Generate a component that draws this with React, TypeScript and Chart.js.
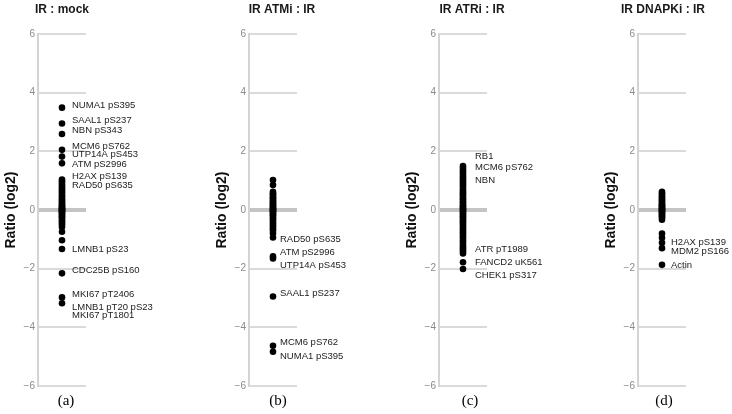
import React, { useEffect, useRef } from "react";
import { Chart, registerables } from "chart.js";

Chart.register(...registerables);

// ---------- data ----------
const panelTitles = ["IR : mock", "IR ATMi : IR", "IR ATRi : IR", "IR DNAPKi : IR"];
const panelCaptions = ["(a)", "(b)", "(c)", "(d)"];
const yTicks = [-6, -4, -2, 0, 2, 4, 6];
const yAxisTitle = "Ratio (log2)";

const ratiosA = [
  3.49, 2.95, 2.59, 2.05, 1.82, 1.59,
  1.04, 0.98, 0.92, 0.86, 0.8, 0.74, 0.69, 0.63, 0.58, 0.52, 0.47, 0.41, 0.36, 0.31,
  0.27, 0.22, 0.18, 0.14, 0.11, 0.08, 0.05, 0.03, 0.01, -0.02, -0.04, -0.07, -0.1,
  -0.13, -0.17, -0.21, -0.25, -0.3, -0.35, -0.4, -0.45, -0.51, -0.58,
  -0.74, -1.03, -1.33, -2.16, -2.98, -3.18,
];
const namesA = [
  "NUMA1 pS395", "SAAL1 pS237", "NBN pS343", "MCM6 pS762", "UTP14A pS453", "ATM pS2996",
  "H2AX pS139", "RAD50 pS635", "LMNB1 pS23", "CDC25B pS160", "MKI67 pT2406",
  "LMNB1 pT20 pS23", "MKI67 pT1801",
];
const nameYA = [3.56, 3.07, 2.7, 2.16, 1.88, 1.56, 1.14, 0.84, -1.34, -2.07, -2.87, -3.31, -3.58];

const ratiosB = [
  1.02, 0.85,
  0.62, 0.57, 0.53, 0.48, 0.43, 0.39, 0.34, 0.3, 0.26, 0.22, 0.18, 0.15, 0.11, 0.08,
  0.05, 0.02, -0.01, -0.04, -0.07, -0.11, -0.15, -0.19, -0.24, -0.29, -0.34, -0.4,
  -0.46, -0.52, -0.58, -0.64, -0.69, -0.79, -0.94,
  -1.58, -1.65, -2.95, -4.63, -4.83,
];
const namesB = ["RAD50 pS635", "ATM pS2996", "UTP14A pS453", "SAAL1 pS237", "MCM6 pS762", "NUMA1 pS395"];
const nameYB = [-0.99, -1.45, -1.88, -2.84, -4.52, -4.98];

const ratiosC = [
  1.5, 1.44, 1.37, 1.31, 1.24, 1.17, 1.11, 1.04, 0.98, 0.91, 0.85, 0.79, 0.72, 0.66,
  0.6, 0.54, 0.48, 0.42, 0.37, 0.31, 0.26, 0.21, 0.16, 0.12, 0.08, 0.04, 0.01, -0.03,
  -0.07, -0.11, -0.16, -0.21, -0.26, -0.32, -0.38, -0.44, -0.5, -0.56, -0.63, -0.69,
  -0.76, -0.82, -0.89, -0.95, -1.02, -1.08, -1.15, -1.22, -1.28, -1.35, -1.41, -1.48,
  -1.78, -2.01,
];
const namesC = ["RB1", "MCM6 pS762", "NBN", "ATR pT1989", "FANCD2 uK561", "CHEK1 pS317"];
const nameYC = [1.84, 1.44, 1.02, -1.34, -1.77, -2.22];

const ratiosD = [
  0.62, 0.57, 0.52, 0.47, 0.42, 0.37, 0.33, 0.28, 0.24, 0.2, 0.16, 0.13, 0.1, 0.07,
  0.04, 0.02, -0.01, -0.04, -0.07, -0.1, -0.14, -0.18, -0.22, -0.27, -0.33,
  -0.8, -0.95, -1.12, -1.3, -1.87,
];
const namesD = ["H2AX pS139", "MDM2 pS166", "Actin"];
const nameYD = [-1.1, -1.42, -1.88];

const panelRatios = [ratiosA, ratiosB, ratiosC, ratiosD];
const panelNames = [namesA, namesB, namesC, namesD];
const panelNameY = [nameYA, nameYB, nameYC, nameYD];

// ---------- layout ----------
const W = 732;
const H = 414;
const axisX = [38, 249, 439, 638];
const axisW = 38;
const plotW = 48;
const plotTop = 34;
const plotBottom = 386;
const titleDx = [0, 9, 9, 1];
const captionDx = [4, 5, 7, 2];
const labelDx = [10, 7, 12, 9];
const SANS = '"Liberation Sans", Arial, Helvetica, sans-serif';

Chart.defaults.font.family = SANS;

function fmtTick(v: number) {
  return v < 0 ? "\u2212" + Math.abs(v) : String(v);
}

function Panel({ i }: { i: number }) {
  const ref = useRef<HTMLCanvasElement | null>(null);
  const left = axisX[i] - axisW;
  const width = Math.min(183, W - left);

  useEffect(() => {
    if (!ref.current) return;
    const textPlugin = {
      id: "panelText" + i,
      afterDraw(chart: any) {
        const { ctx, scales } = chart;
        const cx = scales.x.getPixelForValue(0);
        ctx.save();
        ctx.fillStyle = "#1a1a1a";
        ctx.textAlign = "center";
        ctx.textBaseline = "middle";
        ctx.font = "bold 12px " + SANS;
        ctx.fillText(panelTitles[i], cx + titleDx[i], 10);
        ctx.font = '15px "Liberation Serif", "Times New Roman", serif';
        ctx.fillStyle = "#000";
        ctx.fillText(panelCaptions[i], cx + captionDx[i], 401);
        ctx.font = "9.5px " + SANS;
        ctx.fillStyle = "#222";
        ctx.textAlign = "left";
        panelNames[i].forEach((n, k) => {
          ctx.fillText(n, cx + labelDx[i], scales.y.getPixelForValue(panelNameY[i][k]));
        });
        ctx.restore();
      },
    };

    const chart = new Chart(ref.current, {
      type: "scatter",
      data: {
        datasets: [
          {
            data: panelRatios[i].map((v) => ({ x: 0, y: v })),
            backgroundColor: "#000",
            borderWidth: 0,
            pointRadius: 3.3,
            pointHoverRadius: 3.3,
          },
        ],
      },
      options: {
        animation: false,
        responsive: false,
        events: [],
        layout: {
          padding: { left: 0, right: width - axisW - plotW, top: plotTop, bottom: H - plotBottom },
        },
        plugins: { legend: { display: false }, tooltip: { enabled: false }, title: { display: false } },
        scales: {
          x: { type: "linear", display: false, min: -1, max: 1 },
          y: {
            type: "linear",
            min: -6,
            max: 6,
            afterBuildTicks: (s: any) => {
              s.ticks = yTicks.map((v) => ({ value: v }));
            },
            afterFit: (s: any) => {
              s.width = axisW;
            },
            ticks: {
              callback: (v: any) => fmtTick(Number(v)),
              color: "#8a8a8a",
              font: { size: 10 },
              padding: 3,
            },
            grid: {
              drawTicks: false,
              color: (c: any) => (c.tick && c.tick.value === 0 ? "#c4c4c4" : "#dadada"),
              lineWidth: (c: any) => (c.tick && c.tick.value === 0 ? 4 : 2),
            },
            border: { display: true, color: "#d4d4d4", width: 2 },
            title: {
              display: true,
              text: yAxisTitle,
              color: "#111",
              font: { size: 14, weight: "bold" },
              padding: { top: 3, bottom: 0 },
            },
          },
        },
      },
      plugins: [textPlugin],
    } as any);
    return () => chart.destroy();
  }, [i, width]);

  return (
    <canvas
      ref={ref}
      width={width}
      height={H}
      style={{ position: "absolute", left, top: 0, width, height: H }}
    />
  );
}

export default function App() {
  return (
    <div
      style={{
        position: "absolute",
        left: 0,
        top: 0,
        width: W,
        height: H,
        overflow: "hidden",
        background: "#fff",
      }}
    >
      {[0, 1, 2, 3].map((i) => (
        <Panel key={i} i={i} />
      ))}
    </div>
  );
}
